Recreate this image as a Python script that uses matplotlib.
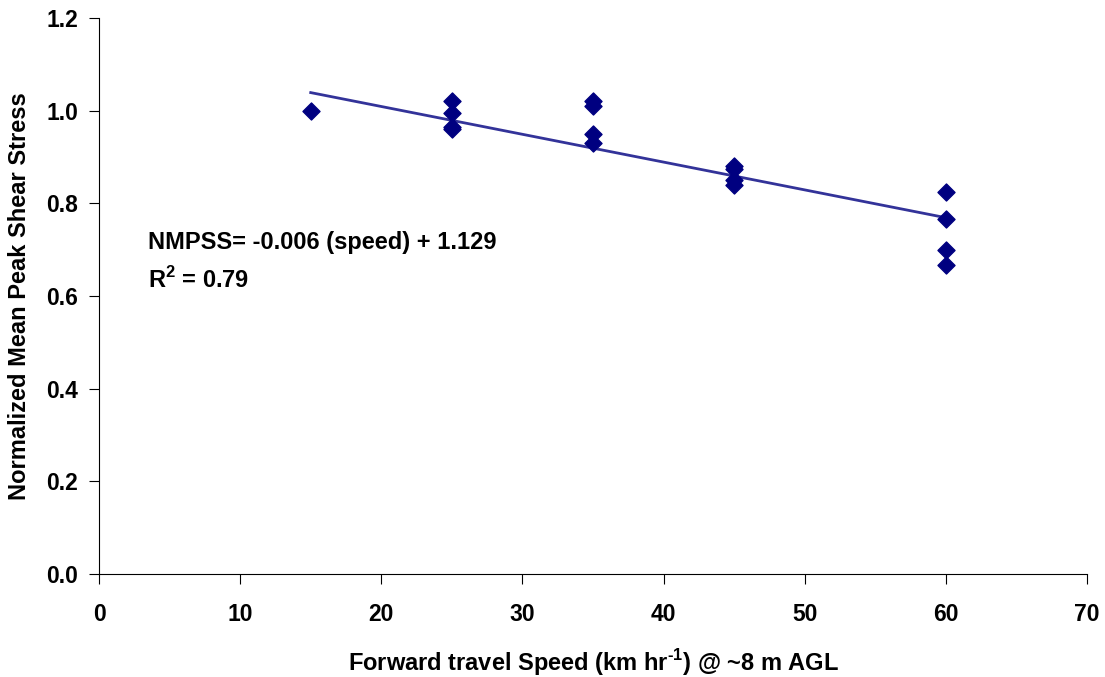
import numpy as np
from matplotlib import pyplot as plt

plt.rcParams['font.family'] = ['Liberation Sans', 'DejaVu Sans']
plt.rcParams['font.weight'] = 'bold'
plt.rcParams['mathtext.fontset'] = 'custom'
plt.rcParams['mathtext.rm'] = 'Liberation Sans:bold'
plt.rcParams['mathtext.bf'] = 'Liberation Sans:bold'

# forward speed (km/hr) and normalized mean peak shear stress
speed = [15, 25, 25, 25, 25, 35, 35, 35, 35, 45, 45, 45, 45, 60, 60, 60, 60]
nmpss = [1.0, 1.02, 0.995, 0.965, 0.96, 1.02, 1.01, 0.95, 0.93,
         0.88, 0.875, 0.85, 0.84, 0.825, 0.767, 0.70, 0.667]

# trendline as printed on the chart
slope = -0.006
intercept = 1.129

fig = plt.figure(figsize=(11.05, 6.77), dpi=100)
ax = fig.add_axes([0.0896, 0.1522, 0.8941, 0.8212])

ax.scatter(speed, nmpss, marker='D', s=75, color='#000080', zorder=3)

xs = np.array([min(speed), max(speed)])
ax.plot(xs, slope * xs + intercept, color='#333399', linewidth=2, zorder=2)

ax.text(3.5, 0.715, 'NMPSS= -0.006 (speed) + 1.129', fontsize=17, fontweight='bold', va='center')
ax.text(3.5, 0.634, r'R$^{\mathrm{2}}$ = 0.79', fontsize=17, fontweight='bold', va='center')

ax.set_xlim(0, 70)
ax.set_ylim(0, 1.2)
ax.set_xticks(range(0, 71, 10))
ax.set_yticks(np.arange(0, 1.21, 0.2))
ax.set_yticklabels(['%.1f' % v for v in np.arange(0, 1.21, 0.2)])
ax.tick_params(direction='out', length=7, labelsize=16.5)
ax.tick_params(axis='x', pad=14)
ax.tick_params(axis='y', pad=8)
for lab in ax.get_xticklabels() + ax.get_yticklabels():
    lab.set_fontweight('bold')

ax.spines['top'].set_visible(False)
ax.spines['right'].set_visible(False)

ax.set_xlabel('Forward travel Speed (km hr$^{\\mathrm{\u20101}}$) @ ~8 m AGL', fontsize=17, fontweight='bold', labelpad=15)
ax.set_ylabel('Normalized Mean Peak Shear Stress', fontsize=17, fontweight='bold', labelpad=11)

plt.savefig('out.png')
